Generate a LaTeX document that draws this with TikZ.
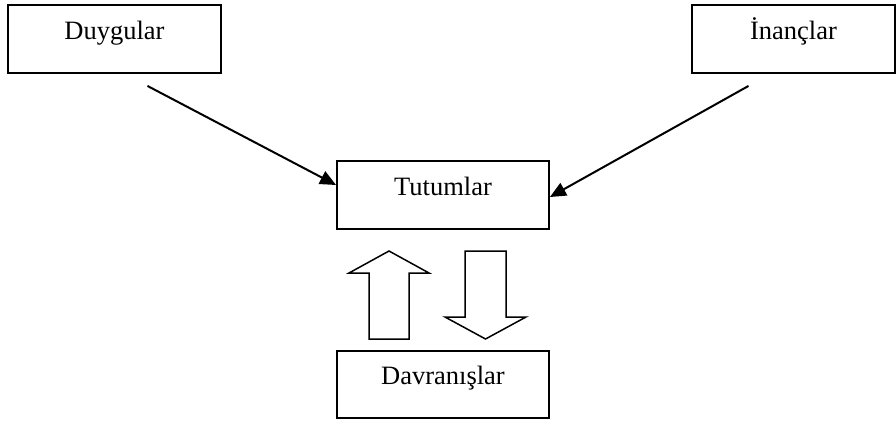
\documentclass[tikz,border=0pt]{standalone}
\usepackage{fontspec}
\setmainfont{Liberation Serif}
\usetikzlibrary{positioning}
\usetikzlibrary{arrows.meta}

\begin{document}
\begin{tikzpicture}[x=1pt,y=-1pt,
  box/.style={draw,line width=1.9pt,minimum height=68pt,inner sep=0pt,
    text height=14pt,text depth=13pt,font=\fontsize{26.5}{30}\selectfont},
  conn/.style={line width=2pt,-{Triangle[length=16pt,width=14pt]}},
  block/.style={draw,line width=1.5pt,line join=miter}]
\useasboundingbox (0,0) rectangle (896,421);
\node[box,minimum width=212pt](tut) at (443,195){Tutumlar};
\node[box,minimum width=212pt,minimum height=67pt,below = 120pt of tut](dav){Davranışlar};
\node[box,minimum width=213pt](duy) at (114.5,39){Duygular\hspace{18pt}};
\node[box,minimum width=203pt](inan) at (793.5,39){İnançlar};
\draw[conn] ([xshift=33pt,yshift=-12pt]duy.south) -- ([yshift=10pt]tut.west);
\draw[conn] ([xshift=-45pt,yshift=-12pt]inan.south) -- ([yshift=-2pt]tut.east);
% up and down block arrows
\draw[block] (369,339) -- (369,273) -- (349,273) -- (389,251) -- (429,273) -- (409,273) -- (409,339) -- cycle;
\draw[block] (465,251) -- (465,317) -- (445,317) -- (485.5,339) -- (526,317) -- (506,317) -- (506,251) -- cycle;
\end{tikzpicture}
\end{document}
